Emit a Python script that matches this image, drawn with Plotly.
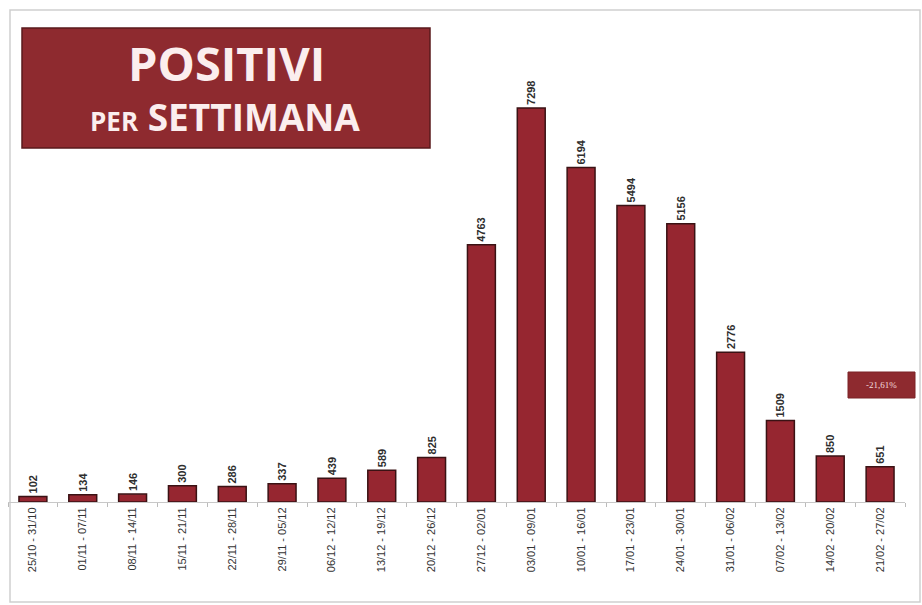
import plotly.graph_objects as go

weeks = ["25/10 - 31/10", "01/11 - 07/11", "08/11 - 14/11", "15/11 - 21/11",
         "22/11 - 28/11", "29/11 - 05/12", "06/12 - 12/12", "13/12 - 19/12",
         "20/12 - 26/12", "27/12 - 02/01", "03/01 - 09/01", "10/01 - 16/01",
         "17/01 - 23/01", "24/01 - 30/01", "31/01 - 06/02", "07/02 - 13/02",
         "14/02 - 20/02", "21/02 - 27/02"]
positivi = [102, 134, 146, 300, 286, 337, 439, 589, 825, 4763, 7298, 6194,
            5494, 5156, 2776, 1509, 850, 651]
title_main = "POSITIVI"
title_sub_small = "PER"
title_sub_big = "SETTIMANA"
badge_text = "-21,61%"

W, H = 922, 605
ML, MR, MT, MB = 8, 17, 10, 103
PW, PH = W - ML - MR, H - MT - MB

def px(x):
    return (x - ML) / PW

def py(y):
    return (H - MB - y) / PH

BAR = "#962630"
BOX = "#8e2a2f"

fig = go.Figure(go.Bar(
    x=weeks, y=positivi,
    marker=dict(color=BAR, line=dict(color="#3a1214", width=1.5)),
    text=[f"<b>{v}</b>" for v in positivi], textposition="outside", textangle=-90,
    textfont=dict(family="Liberation Sans", size=11, color="#2e2e2e"),
    cliponaxis=False,
))

fig.update_layout(
    width=W, height=H,
    margin=dict(l=ML, r=MR, t=MT, b=MB),
    paper_bgcolor="white", plot_bgcolor="white",
    bargap=0.44, showlegend=False,
    xaxis=dict(tickangle=-90, tickfont=dict(family="Liberation Sans", size=11, color="#333333"),
               showline=True, linecolor="#c8c8c8", linewidth=1,
               ticks="outside", tickson="boundaries", ticklen=4, tickcolor="#bbbbbb",
               showgrid=False, fixedrange=True),
    yaxis=dict(range=[0, 9113], visible=False, showgrid=False, fixedrange=True),
    shapes=[
        dict(type="rect", xref="paper", yref="paper",
             x0=px(10), x1=px(920), y0=py(602), y1=py(10),
             line=dict(color="#cfcfcf", width=1.5), fillcolor="rgba(0,0,0,0)", layer="below"),
        dict(type="rect", xref="paper", yref="paper",
             x0=px(22), x1=px(430), y0=py(148), y1=py(28),
             line=dict(color="#5a1a1d", width=1.5), fillcolor=BOX),
        dict(type="rect", xref="paper", yref="paper",
             x0=px(848), x1=px(915), y0=py(398), y1=py(372),
             line=dict(color="#7a2226", width=1), fillcolor=BOX),
    ],
    annotations=[
        dict(text=f"<b>{title_main}</b>", xref="paper", yref="paper",
             x=px(226), y=py(63), xanchor="center", yanchor="middle", showarrow=False,
             font=dict(family="Open Sans", size=47, color="#fbeeee")),
        dict(text=f"<b><span style='font-size:26px'>{title_sub_small}</span> {title_sub_big}</b>",
             xref="paper", yref="paper",
             x=px(225), y=py(116), xanchor="center", yanchor="middle", showarrow=False,
             font=dict(family="Open Sans", size=37, color="#fbeeee")),
        dict(text=badge_text, xref="paper", yref="paper",
             x=px(881), y=py(385), xanchor="center", yanchor="middle", showarrow=False,
             font=dict(family="Liberation Serif", size=9, color="#f5dede")),
    ],
)

fig.write_html("out.html")
